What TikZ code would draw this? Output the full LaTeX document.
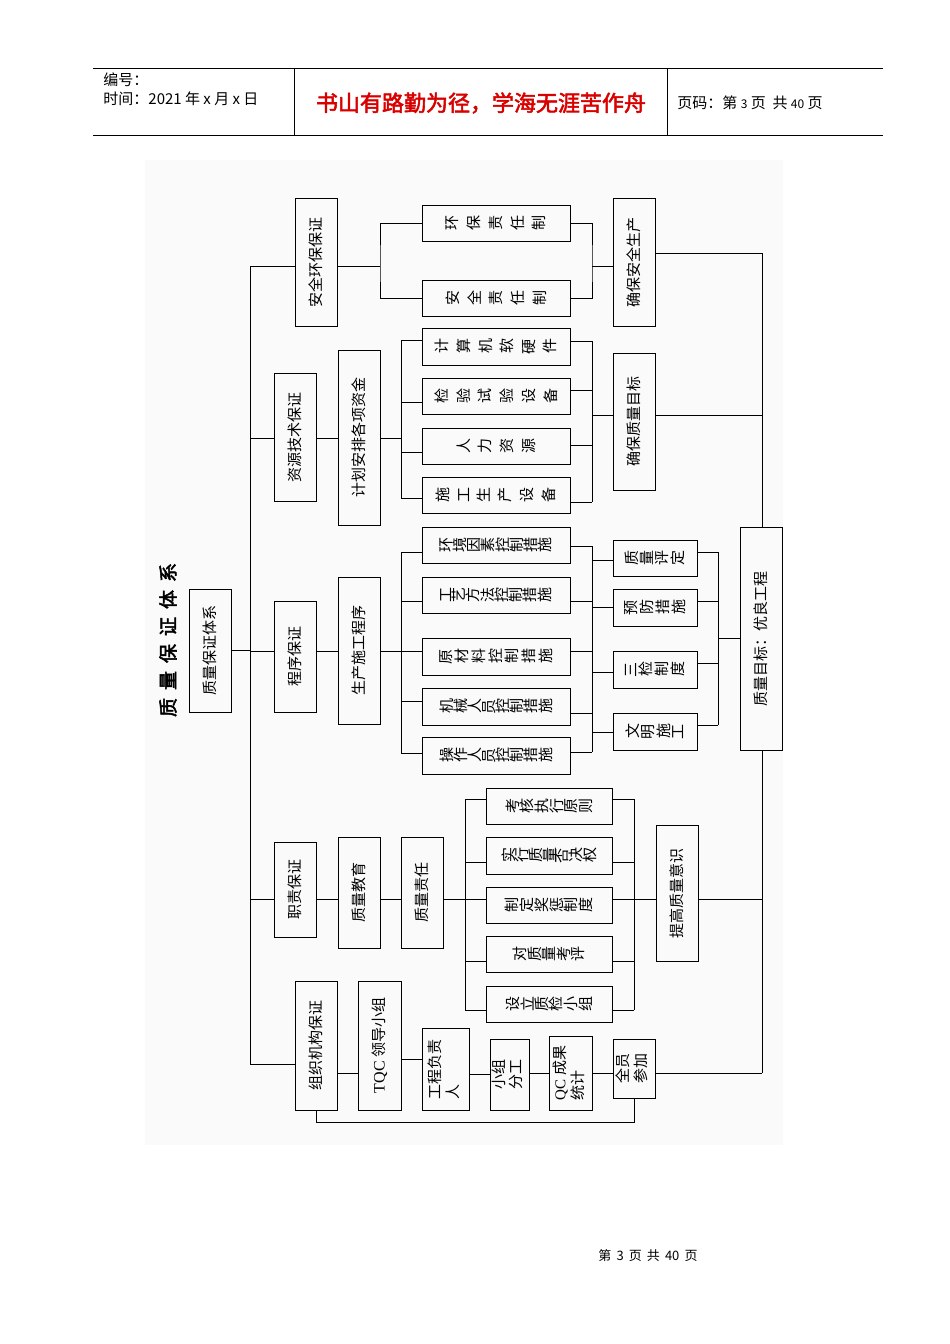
\documentclass[tikz,border=0pt]{standalone}
\usepackage{fontspec}
\usetikzlibrary{fit}
\newfontfamily\cjk{Noto Sans CJK SC}
\newfontfamily\cjkb[FakeBold=2.5]{Noto Sans CJK SC}
\setmainfont{Liberation Serif}
\def\rrgap{6pt}
\def\rr#1{\ifx\relax#1\unskip\else\rotatebox[origin=c]{90}{#1}\hskip\rrgap\expandafter\rr\fi}
% box: name, x1,y1,x2,y2, content
\newcommand\bx[6]{\node[box,fit={(#2,#3)(#4,#5)}] (#1) {};
  \node[txt] (#1t) at (#1.center) {#6};}
\newcommand\vb[1]{\rotatebox[origin=c]{90}{#1}}
\newcommand\wb[2]{\def\rrgap{#1}\rr#2\relax}
\begin{document}
\begin{tikzpicture}[x=1pt,y=-1pt,line width=0.9pt,
  box/.style={draw,inner sep=0pt,line width=1pt},
  txt/.style={font=\cjk\fontsize{15}{17}\selectfont,inner sep=0pt,align=center},
  ln/.style={line width=0.9pt}]
\useasboundingbox (0,0) rectangle (950,1344);
\fill[white] (0,0) rectangle (950,1344);
\fill[gray!4] (145,160) rectangle (783,1145);
% header
\draw[line width=0.7pt] (93,68) -- (883,68) (93,135) -- (883,135) (294,68) -- (294,135) (667,68) -- (667,135);
\node[anchor=west,font=\cjk\fontsize{15}{17}\selectfont,inner sep=0] (h1) at (103,80) {编号：};
\node[anchor=west,font=\cjk\fontsize{15}{17}\selectfont,inner sep=0] (h2) at (103,99) {时间：2021 年 x 月 x 日};
\node[font=\cjkb\fontsize{22}{24}\selectfont,text=red!85!black,inner sep=0] (h3) at (481,103) {书山有路勤为径，学海无涯苦作舟};
\node[anchor=west,font=\cjk\fontsize{15}{17}\selectfont,inner sep=0] (h4) at (677,103) {页码：第 {\fontsize{12}{12}\selectfont 3} 页\ \ 共 {\fontsize{12}{12}\selectfont 40} 页};
\node[font=\cjk\fontsize{13}{14}\selectfont,inner sep=0] (ft) at (648,1256) {第\ \,3\ \,页\ \,共\ \,40\ \,页};
% title
\node[font=\cjkb\fontsize{19}{22}\selectfont,inner sep=0] (title) at (168,640) {\vb{质\hspace{8pt}量\hspace{8pt}保\hspace{8pt}证\hspace{8pt}体\hspace{8pt}系}};
\bx{root}{189}{589}{231}{712}{\vb{质量保证体系}}
% branch 1
\bx{aq}{295}{198}{337}{326}{\vb{安全环保保证}}
\bx{hb}{422}{205}{570}{241}{\wb{8pt}{环保责任制}}
\bx{aqz}{422}{280}{570}{316}{\wb{8pt}{安全责任制}}
\bx{qbaq}{613}{198}{655}{326}{\vb{确保安全生产}}
% branch 2
\bx{zy}{274}{373}{316}{501}{\vb{资源技术保证}}
\bx{jh}{338}{350}{380}{525}{\vb{计划安排各项资金}}
\bx{c1}{422}{328}{570}{365}{\wb{8pt}{计算机软硬件}}
\bx{c2}{422}{378}{570}{414}{\wb{8pt}{检验试验设备}}
\bx{c3}{422}{428}{570}{464}{\wb{8pt}{人力资源}}
\bx{c4}{422}{477}{570}{513}{\wb{8pt}{施工生产设备}}
\bx{qbzl}{613}{353}{655}{490}{\vb{确保质量目标}}
% branch 3
\bx{cx}{274}{601}{316}{712}{\vb{程序保证}}
\bx{sc}{338}{577}{380}{724}{\vb{生产施工程序}}
\bx{d1}{422}{527}{570}{563}{\wb{0.5pt}{环境因素控制措施}}
\bx{d2}{422}{577}{570}{613}{\wb{0.5pt}{工艺方法控制措施}}
\bx{d3}{422}{638}{570}{675}{\wb{3pt}{原材料控制措施}}
\bx{d4}{422}{688}{570}{725}{\wb{0.5pt}{机械人员控制措施}}
\bx{d5}{422}{737}{570}{774}{\wb{0.5pt}{操作人员控制措施}}
\bx{e1}{613}{540}{697}{576}{\wb{2pt}{质量评定}}
\bx{e2}{613}{589}{697}{626}{\wb{2pt}{预防措施}}
\bx{e3}{613}{651}{697}{688}{\wb{2pt}{三检制度}}
\bx{e4}{613}{713}{697}{750}{\wb{2pt}{文明施工}}
\bx{goal}{740}{527}{782}{750}{\vb{质量目标：优良工程}}
% branch 4
\bx{zz}{274}{842}{316}{937}{\vb{职责保证}}
\bx{jy}{338}{837}{380}{948}{\vb{质量教育}}
\bx{zr}{401}{837}{443}{948}{\vb{质量责任}}
\bx{f1}{486}{788}{612}{824}{\wb{1pt}{考核执行原则}}
\bx{f2}{486}{837}{612}{874}{\wb{0pt}{实行质量否决权}}
\bx{f3}{486}{887}{612}{923}{\wb{1pt}{制定奖惩制度}}
\bx{f4}{486}{936}{612}{972}{\wb{1pt}{对质量考评}}
\bx{f5}{486}{986}{612}{1022}{\wb{1pt}{设立质检小组}}
\bx{tg}{656}{825}{698}{961}{\vb{提高质量意识}}
% branch 5
\bx{zj}{295}{981}{337}{1110}{\vb{组织机构保证}}
\bx{tqc}{358}{981}{401}{1110}{\vb{{\fontsize{16}{16}\selectfont\rmfamily TQC} 领导小组}}
\bx{gc}{422}{1028}{469}{1110}{\vb{\begin{tabular}{@{}l@{}}工程负责\\人\end{tabular}}}
\bx{xz}{490}{1039}{529}{1110}{\vb{\begin{tabular}{@{}l@{}}小组\\分工\end{tabular}}}
\bx{qc}{549}{1036}{592}{1110}{\vb{\begin{tabular}{@{}l@{}}{\rmfamily QC} 成果\\统计\end{tabular}}}
\bx{qy}{613}{1039}{655}{1098}{\vb{\begin{tabular}{@{}l@{}}全员\\参加\end{tabular}}}
% trunk
\coordinate (t1) at (250,266); \coordinate (t5) at (250,1064);
\draw[ln] (t1) -- (t5);
\draw[ln] (root.east) -- (root.east -| t1);
\draw[ln] (t1) -- (aq.west |- t1);
\draw[ln] (250,438) -- (zy.west |- 0,438);
\draw[ln] (250,651) -- (cx.west |- 0,651);
\draw[ln] (250,899) -- (zz.west |- 0,899);
\draw[ln] (t5) -- (zj.west |- t5);
% right trunk
\coordinate (r1) at (762,253); \coordinate (r5) at (762,1073);
\draw[ln] (r1) -- (goal.north -| r1);
\draw[ln] (goal.south -| r1) -- (r5);
% branch 1 links
\draw[ln] (aq.east |- 0,266) -- (380,266);
\draw[ln] (hb.west) -| (380,266) |- (aqz.west);
\draw[ln] (hb.east) -| (592,266) |- (aqz.east);
\draw[ln] (592,266) -- (qbaq.west |- 0,266);
\draw[ln] (qbaq.east |- r1) -- (r1);
% branch 2 links
\draw[ln] (zy.east |- 0,438) -- (jh.west |- 0,438);
\draw[ln] (jh.east |- 0,438) -- (401,438);
\draw[ln] (401,340) -- (401,498);
\foreach \y/\n in {340/c1,402/c2,452/c3,498/c4} \draw[ln] (401,\y) -- (\n.west |- 0,\y);
\foreach \y/\n in {341/c1,390/c2,445/c3,502/c4} \draw[ln] (\n.east |- 0,\y) -- (592,\y);
\draw[ln] (592,341) -- (592,502);
\draw[ln] (592,415) -- (qbzl.west |- 0,415);
\draw[ln] (qbzl.east |- 0,415) -- (762,415);
% branch 3 links
\draw[ln] (cx.east |- 0,651) -- (sc.west |- 0,651);
\draw[ln] (sc.east |- 0,651) -- (401,651);
\draw[ln] (401,552) -- (401,753);
\foreach \y/\n in {552/d1,601/d2,651/d3,701/d4,753/d5} \draw[ln] (401,\y) -- (\n.west |- 0,\y);
\foreach \y/\n in {546/d1,601/d2,651/d3,713/d4,752/d5} \draw[ln] (\n.east |- 0,\y) -- (592,\y);
\draw[ln] (592,546) -- (592,752);
\foreach \y/\n in {560/e1,607/e2,672/e3,732/e4} \draw[ln] (592,\y) -- (\n.west |- 0,\y);
\foreach \y/\n in {552/e1,601/e2,663/e3,725/e4} \draw[ln] (\n.east |- 0,\y) -- (718,\y);
\draw[ln] (718,552) -- (718,725);
\draw[ln] (718,638) -- (goal.west |- 0,638);
% branch 4 links
\draw[ln] (zz.east |- 0,899) -- (jy.west |- 0,899);
\draw[ln] (jy.east |- 0,899) -- (zr.west |- 0,899);
\draw[ln] (zr.east |- 0,899) -- (465,899);
\draw[ln] (465,799) -- (465,1010);
\foreach \y/\n in {799/f1,862/f2,899/f3,961/f4,1010/f5} {\draw[ln] (465,\y) -- (\n.west |- 0,\y); \draw[ln] (\n.east |- 0,\y) -- (634,\y);}
\draw[ln] (634,799) -- (634,1010);
\draw[ln] (634,899) -- (tg.west |- 0,899);
\draw[ln] (tg.east |- 0,899) -- (762,899);
% branch 5 links
\draw[ln] (zj.east |- 0,1073) -- (tqc.west |- 0,1073);
\draw[ln] (tqc.east |- 0,1059) -- (gc.west |- 0,1059);
\draw[ln] (gc.east |- 0,1074) -- (xz.west |- 0,1074);
\draw[ln] (xz.east |- 0,1073) -- (qc.west |- 0,1073);
\draw[ln] (qc.east |- 0,1073) -- (qy.west |- 0,1073);
\draw[ln] (qy.east |- 0,1073) -- (r5);
\draw[ln] (zj.south -| 316,0) |- (634,1122) -- (qy.south -| 634,0);
\end{tikzpicture}
\end{document}
